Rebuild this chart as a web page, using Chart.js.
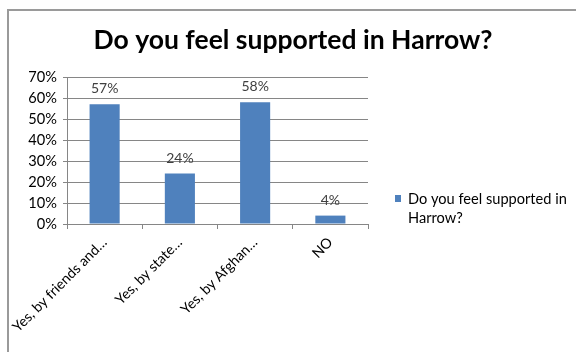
<!DOCTYPE html>
<html>
<head>
<meta charset="utf-8">
<script src="https://cdn.jsdelivr.net/npm/chart.js@4"></script>
<style>
  html, body { margin: 0; padding: 0; background: #fff; overflow: hidden; }
</style>
</head>
<body>
<canvas id="myChart" width="576" height="352"></canvas>
<script>
// Datos
const titulo = 'Do you feel supported in Harrow?';
const categorias = ['Yes, by friends and…', 'Yes, by state…', 'Yes, by Afghan…', 'NO'];
const valores = [57, 24, 58, 4];
const serie = 'Do you feel supported in Harrow?';
const serieLineas = ['Do you feel supported in', 'Harrow?'];
const ticksY = [0, 10, 20, 30, 40, 50, 60, 70];

const azul = '#4f81bd';
const gris = '#868686';
const fuente = 'Lato, "Open Sans", sans-serif';

// marco gris de arriba y de la izquierda + titulo
const marco = {
    id: 'marco',
    beforeDraw(chart) {
        const ctx = chart.ctx;
        ctx.save();
        ctx.fillStyle = '#fff';
        ctx.fillRect(0, 0, chart.width, chart.height);
        ctx.strokeStyle = '#9a9a9a';
        ctx.lineWidth = 2;
        ctx.beginPath();
        ctx.moveTo(8, chart.height);
        ctx.lineTo(8, 10);
        ctx.lineTo(chart.width, 10);
        ctx.stroke();

        ctx.font = 'bold 26.5px ' + fuente;
        ctx.fillStyle = '#000';
        ctx.textAlign = 'center';
        ctx.textBaseline = 'alphabetic';
        ctx.fillText(titulo, 293, 49);
        ctx.restore();
    }
};

// etiquetas de porcentaje encima de cada barra
const etiquetas = {
    id: 'etiquetas',
    afterDatasetsDraw(chart) {
        const ctx = chart.ctx;
        const meta = chart.getDatasetMeta(0);
        ctx.save();
        ctx.font = '14px ' + fuente;
        ctx.fillStyle = '#404040';
        ctx.textAlign = 'center';
        ctx.textBaseline = 'alphabetic';
        meta.data.forEach(function(bar, i) {
            ctx.fillText(valores[i] + '%', bar.x, bar.y - 11);
        });
        ctx.restore();
    }
};

// leyenda a la derecha, en dos lineas
const leyenda = {
    id: 'leyenda',
    afterDraw(chart) {
        const ctx = chart.ctx;
        const area = chart.chartArea;
        const x = area.right + 27;
        const y = 199;
        ctx.save();
        ctx.fillStyle = azul;
        ctx.fillRect(x, y - 4, 6, 7);
        ctx.font = '14.6px ' + fuente;
        ctx.fillStyle = '#000';
        ctx.textBaseline = 'middle';
        serieLineas.forEach(function(linea, i) {
            ctx.fillText(linea, x + 13, y + i * 19);
        });
        ctx.restore();
    }
};

const config = {
    type: 'bar',
    data: {
        labels: categorias,
        datasets: [{
            label: serie,
            data: valores,
            backgroundColor: azul,
            borderWidth: 0,
            barPercentage: 1,
            categoryPercentage: 0.4
        }]
    },
    options: {
        responsive: false,
        animation: false,
        layout: {
            padding: { left: 10, right: 208, top: 77, bottom: 0 }
        },
        plugins: {
            legend: { display: false },
            tooltip: { enabled: false },
            title: { display: false }
        },
        scales: {
            x: {
                grid: {
                    offset: true,
                    drawOnChartArea: false,
                    drawTicks: true,
                    tickLength: 5,
                    color: gris
                },
                border: { color: gris },
                ticks: {
                    color: '#000',
                    font: { family: fuente, size: 14.2 },
                    minRotation: 45,
                    maxRotation: 45,
                    autoSkip: false,
                    padding: 5
                },
                afterFit(scale) { scale.height = 128; }
            },
            y: {
                min: 0,
                max: 70,
                afterBuildTicks(scale) {
                    scale.ticks = ticksY.map(function(v) { return { value: v }; });
                },
                grid: {
                    color: gris,
                    tickLength: 4
                },
                border: { color: gris },
                ticks: {
                    color: '#000',
                    font: { family: fuente, size: 14.6 },
                    padding: 6,
                    callback: function(v) { return v + '%'; }
                },
                afterFit(scale) { scale.width = 57; }
            }
        }
    },
    plugins: [marco, etiquetas, leyenda]
};

// Crear la grafica
var myChart = new Chart(document.getElementById('myChart'), config);
</script>
</body>
</html>
